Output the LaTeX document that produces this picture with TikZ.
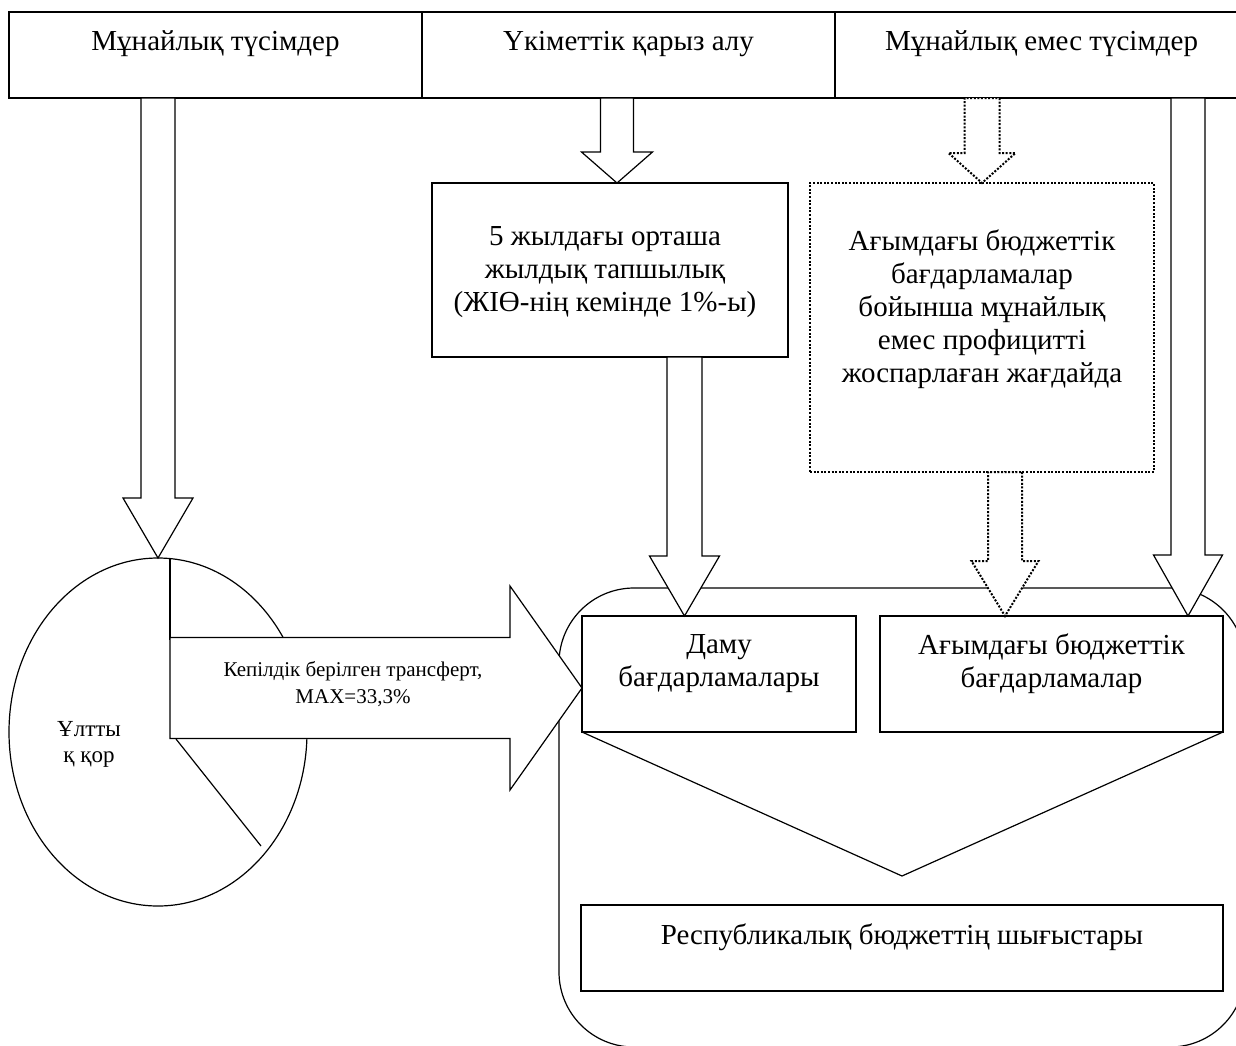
\documentclass[tikz,border=0pt]{standalone}
\usepackage{fontspec}
\setmainfont{Liberation Serif}
\usetikzlibrary{calc,positioning,shapes.geometric}

% block arrow: [style] {tail} {tip} {shaft half width} {head half width} {head length}
\newcommand{\blockarrow}[6][]{%
  \coordinate (hb) at ($(#3)!#6!(#2)$);
  \draw[barrow,#1] ($(#2)!#4!90:(#3)$) -- ($(hb)!#4!90:(#3)$) -- ($(hb)!#5!90:(#3)$)
    -- (#3) -- ($(hb)!#5!-90:(#3)$) -- ($(hb)!#4!-90:(#3)$) -- ($(#2)!#4!-90:(#3)$) -- cycle;}

\begin{document}
\begin{tikzpicture}[x=0.5pt,y=-0.5pt,
    every node/.style={outer sep=0pt},
    box/.style={draw,line width=0.6pt,inner sep=0pt},
    topbox/.style={box,minimum width=206.5pt,minimum height=43pt},
    dotbox/.style={box,dash pattern=on 1pt off 0.8pt,line width=1pt},
    txt/.style={align=center,inner sep=0pt,font=\fontsize{14.5}{16.5}\selectfont},
    smalltxt/.style={align=center,inner sep=0pt,font=\fontsize{10.5}{13.5}\selectfont},
    fundtxt/.style={align=center,inner sep=0pt,font=\fontsize{11.5}{13}\selectfont},
    barrow/.style={fill=white,line width=0.6pt},
    dotarrow/.style={dash pattern=on 1pt off 0.8pt,line width=1pt}]
  \useasboundingbox (0,0) rectangle (1236,1045);
  \fill[white] (0,0) rectangle (1236,1045);
  \clip (0,0) rectangle (1236,1045);

  % sources
  \node[topbox] (oil) at (215.5,55) {};
  \node[topbox,right=0pt of oil] (loan) {};
  \node[topbox,right=0pt of loan] (nonoil) {};

  \node[box,minimum width=178pt,minimum height=87pt] (deficit) at (610,270) {};
  \node[dotbox,minimum width=172pt,minimum height=144.5pt] (surplus) at (982,327.5) {};

  % national fund
  \node[draw,ellipse,line width=0.6pt,minimum width=149pt,minimum height=174pt,inner sep=0pt] (fund) at (158,732) {};
  \draw[line width=0.6pt] (170,559) -- (170,640);
  \draw[line width=0.6pt] (176,739) -- (261,846);

  % budget
  \node[box,rounded corners=37.5pt,minimum width=343pt,minimum height=229.5pt] (budget) at (902,817.5) {};
  \node[box,minimum width=137pt,minimum height=58pt] (dev) at (719,674) {};
  \node[box,minimum width=171.5pt,minimum height=58pt] (cur) at (1051.5,674) {};
  \node[box,minimum width=321pt,minimum height=43pt] (exp) at (902,948) {};
  \coordinate (vtip) at ([yshift=14.5pt]exp.north);
  \draw[line width=0.6pt] (dev.south west) -- (vtip) -- (cur.south east);

  % arrows
  \coordinate (oiltip) at (fund.north);
  \coordinate (oiltail) at (oiltip |- oil.south);
  \coordinate (loantip) at ([xshift=3.5pt]deficit.north);
  \coordinate (loantail) at (loantip |- loan.south);
  \coordinate (devtip) at ([xshift=-17.25pt]dev.north);
  \coordinate (devtail) at (devtip |- deficit.south);
  \coordinate (surtip) at (surplus.north);
  \coordinate (surtail) at (surtip |- nonoil.south);
  \coordinate (curtip) at ([xshift=-23.25pt]cur.north);
  \coordinate (curtail) at (curtip |- surplus.south);
  \coordinate (nontip) at ([xshift=68.25pt]cur.north);
  \coordinate (nontail) at (nontip |- nonoil.south);
  \coordinate (trtail) at (170,688);
  \coordinate (trtip) at (dev.west |- trtail);

  \blockarrow{oiltail}{oiltip}{8.5pt}{17.5pt}{30pt}
  \blockarrow{loantail}{loantip}{8.25pt}{17.75pt}{15.5pt}
  \blockarrow{devtail}{devtip}{8.75pt}{17.5pt}{30pt}
  \blockarrow[dotarrow]{surtail}{surtip}{8.75pt}{16.75pt}{15pt}
  \blockarrow[dotarrow]{curtail}{curtip}{8.5pt}{16.75pt}{27.5pt}
  \blockarrow{nontail}{nontip}{8.5pt}{17.25pt}{30.5pt}
  \blockarrow{trtail}{trtip}{25.25pt}{51pt}{36pt}

  % texts
  \node[txt,anchor=base] (oiltxt) at ([yshift=2.5pt]oil.center) {Мұнайлық түсімдер};
  \node[txt,anchor=base] (loantxt) at ([yshift=2.5pt]loan.center) {Үкіметтік қарыз алу};
  \node[txt,anchor=base] (nonoiltxt) at ([yshift=2.5pt]nonoil.center) {Мұнайлық емес түсімдер};
  \node[txt] (deficittxt) at ([xshift=-2.5pt,yshift=-1pt]deficit.center)
    {5 жылдағы орташа\\жылдық тапшылық\\(ЖІӨ-нің кемінде 1\%-ы)};
  \node[txt] (surplustxt) at ([yshift=9.25pt]surplus.center)
    {Ағымдағы бюджеттік\\бағдарламалар\\бойынша мұнайлық\\емес профицитті\\жоспарлаған жағдайда};
  \node[fundtxt] (fundname) at ([xshift=-34.5pt,yshift=-6pt]fund.center) {Ұлтты\\қ қор};
  \node[smalltxt] (trtxt) at ([xshift=91.5pt,yshift=2pt]trtail) {Кепілдік берілген трансферт,\\MAX=33,3\%};
  \node[txt] (devtxt) at ([yshift=5pt]dev.center) {Даму\\бағдарламалары};
  \node[txt] (curtxt) at ([yshift=5pt]cur.center) {Ағымдағы бюджеттік\\бағдарламалар};
  \node[txt,anchor=base] (exptxt) at ([yshift=2pt]exp.center) {Республикалық бюджеттің шығыстары};
\end{tikzpicture}
\end{document}
